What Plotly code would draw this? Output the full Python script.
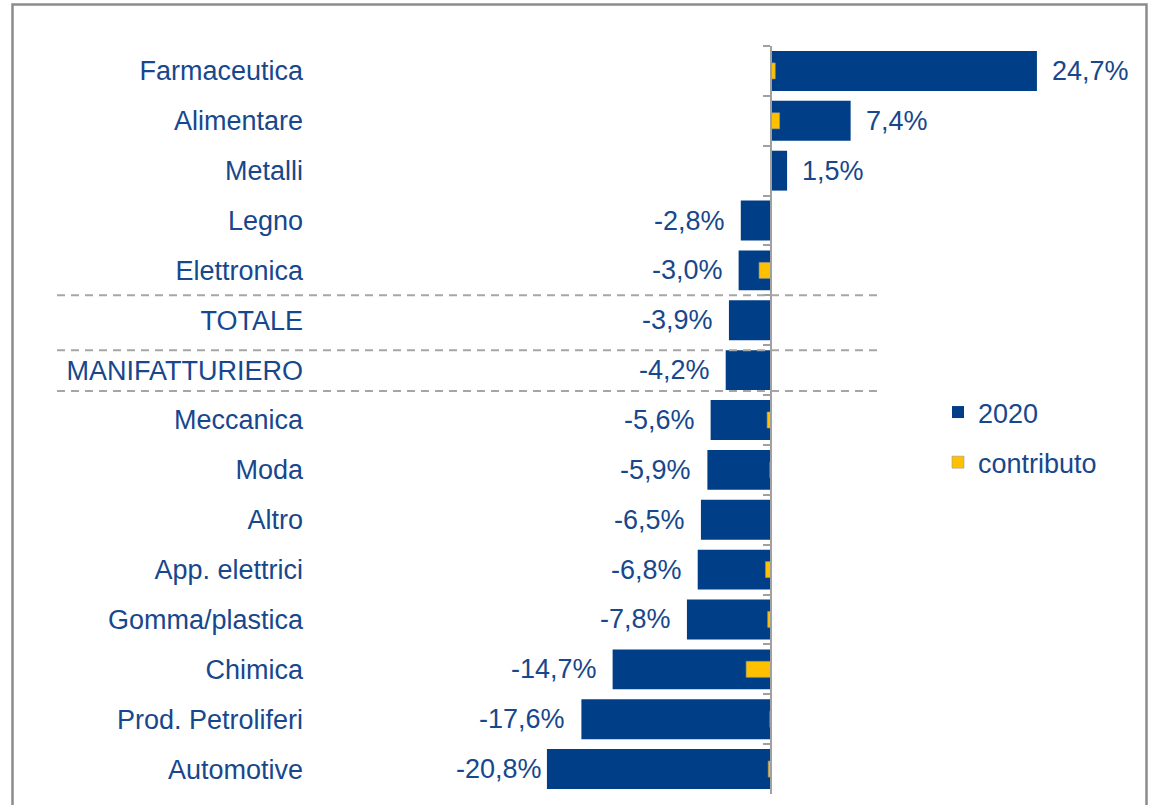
import plotly.graph_objects as go

# Sector data: 2020 change (%) and contribution (%)
categories = [
    "Farmaceutica", "Alimentare", "Metalli", "Legno", "Elettronica",
    "TOTALE", "MANIFATTURIERO", "Meccanica", "Moda", "Altro",
    "App. elettrici", "Gomma/plastica", "Chimica", "Prod. Petroliferi", "Automotive",
]
values_2020 = [24.7, 7.4, 1.5, -2.8, -3.0, -3.9, -4.2, -5.6, -5.9, -6.5,
               -6.8, -7.8, -14.7, -17.6, -20.8]
values_contributo = [0.4, 0.8, None, None, -1.1, None, None, -0.35, -0.1, None,
                     -0.5, -0.3, -2.3, -0.1, -0.25]

NAVY = "#003F87"
YELLOW = "#FFC000"
TEXT = "#17478C"
FONT = "Liberation Sans, Arial, sans-serif"
FS = 27

W, H = 1158, 805
L, R, T, B = 310, 18, 46, 11
PW, PH = W - L - R, H - T - B
X_RANGE = [-42.80, 34.27]
zero_frac = (0 - X_RANGE[0]) / (X_RANGE[1] - X_RANGE[0])


def px_x(px):
    return (px - L) / PW


def px_y(py):
    return 1 - (py - T) / PH


def fmt(v):
    return f"{v:.1f}".replace(".", ",") + "%"


fig = go.Figure()
fig.add_trace(go.Bar(
    y=categories, x=values_2020, orientation="h", name="2020",
    marker=dict(color=NAVY, line=dict(width=0)), width=0.8,
    legendgroup="a", hoverinfo="skip",
))
fig.add_trace(go.Bar(
    y=categories, x=values_contributo, orientation="h", name="contributo",
    marker=dict(color=YELLOW, line=dict(width=0.6, color="#9a9a9a")), width=0.32,
    yaxis="y2", legendgroup="b", hoverinfo="skip",
))

# Value labels beside each bar (the last one sits tighter to its bar)
for i, (cat, v) in enumerate(zip(categories, values_2020)):
    if v >= 0:
        shift = 13
    else:
        shift = -3 if i == len(categories) - 1 else -14
    fig.add_annotation(
        x=v, y=cat, xref="x", yref="y", text=fmt(v), showarrow=False,
        xanchor="left" if v >= 0 else "right", xshift=shift,
        font=dict(size=FS, color=TEXT, family=FONT),
    )

shapes = []
# Dashed separators around the aggregate rows
for yv in [4.5, 5.6, 6.42]:
    shapes.append(dict(
        type="line", xref="paper", yref="y", x0=px_x(57), x1=px_x(878), y0=yv, y1=yv,
        line=dict(color="#A6A6A6", width=2, dash="8px,6px"),
    ))
# Outer frame
shapes.append(dict(
    type="rect", xref="paper", yref="paper",
    x0=px_x(12.5), x1=px_x(1146.5), y0=px_y(830), y1=px_y(4.5),
    line=dict(color="#8C8C8C", width=2.5), fillcolor="rgba(0,0,0,0)", layer="above",
))

cat_axis = dict(
    type="category", categoryorder="array", categoryarray=categories,
    range=[len(categories) - 0.5, -0.5], showgrid=False, zeroline=False,
)

fig.update_layout(
    width=W, height=H,
    margin=dict(l=L, r=R, t=T, b=B, pad=0),
    paper_bgcolor="white", plot_bgcolor="white",
    barmode="overlay",
    font=dict(family=FONT, color=TEXT, size=FS),
    xaxis=dict(range=X_RANGE, visible=False, showgrid=False, zeroline=False),
    yaxis=dict(**cat_axis, showline=False, ticks="", ticklabelstandoff=6,
               tickfont=dict(size=FS, color=TEXT, family=FONT)),
    yaxis2=dict(**cat_axis, overlaying="y", anchor="free", position=zero_frac,
                showline=True, linecolor="#A0A0A0", linewidth=2,
                ticks="outside", tickson="boundaries", ticklen=7,
                tickcolor="#A0A0A0", tickwidth=2, showticklabels=False),
    legend=dict(
        x=px_x(938), y=px_y(388), xanchor="left", yanchor="top",
        traceorder="grouped", tracegroupgap=12,
        font=dict(size=FS, color=TEXT, family=FONT), bgcolor="rgba(0,0,0,0)",
    ),
    shapes=shapes,
    showlegend=True,
)

fig.write_html("out.html")
